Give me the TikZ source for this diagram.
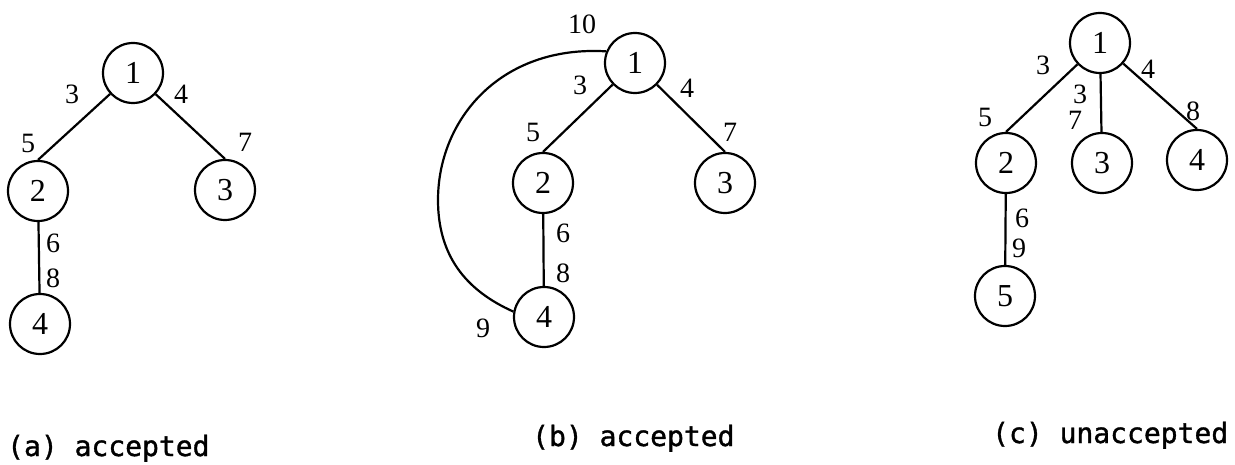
\documentclass[tikz,border=0pt]{standalone}
\usepackage{fontspec}
\newfontfamily\capfont[FakeBold=1.2]{DejaVu Sans Mono}
\newfontfamily\digfont{Liberation Serif}
\begin{document}
\begin{tikzpicture}[x=1pt,y=-1pt,
  vert/.style={circle,draw,line width=2.2pt,minimum size=60pt,inner sep=0pt,font=\digfont\fontsize{32}{32}\selectfont},
  lab/.style={inner sep=0pt,font=\digfont\fontsize{28}{28}\selectfont},
  link/.style={line width=2.2pt},
  captext/.style={anchor=base west,inner sep=0pt,font=\capfont\fontsize{28}{28}\selectfont}]
\useasboundingbox (0,0) rectangle (1235,465);
% (a)
\node[vert] (a1) at (133,73) {1};
\node[vert] (a2) at (38,191) {2};
\node[vert] (a3) at (225,190) {3};
\node[vert] (a4) at (40,324) {4};
\draw[link] (a1) -- (a2.north);
\draw[link] (a1) -- (a3.north);
\draw[link] (a2) -- (a4);
\node[lab] (la3) at (72,94) {3};
\node[lab] (la4) at (181,94) {4};
\node[lab] (la5) at (28,143) {5};
\node[lab] (la7) at (245,142) {7};
\node[lab] (la6) at (53,243) {6};
\node[lab] (la8) at (53,278) {8};
\node[captext] (capa) at (7,456) {(a) accepted};
% (b)
\node[vert] (b1) at (635,63) {1};
\node[vert] (b2) at (543,183) {2};
\node[vert] (b3) at (725,183) {3};
\node[vert] (b4) at (544,317) {4};
\draw[link] (b1) -- (b2.north);
\draw[link] (b1) -- (b3.north);
\draw[link] (b2) -- (b4);
\draw[link] (b1.158) .. controls (500,45) and (438,120) .. (438,200)
  .. controls (438,255) and (465,290) .. (b4.170);
\node[lab] (lb10) at (582,24) {10};
\node[lab] (lb3) at (580,85) {3};
\node[lab] (lb4) at (687,88) {4};
\node[lab] (lb5) at (533,132) {5};
\node[lab] (lb7) at (730,132) {7};
\node[lab] (lb6) at (563,233) {6};
\node[lab] (lb8) at (563,273) {8};
\node[lab] (lb9) at (483,328) {9};
\node[captext] (capb) at (532,446) {(b) accepted};
% (c)
\node[vert] (c1) at (1100,43) {1};
\node[vert] (c2) at (1006,163) {2};
\node[vert] (c3) at (1102,163) {3};
\node[vert] (c4) at (1197,160) {4};
\node[vert] (c5) at (1005,296) {5};
\draw[link] (c1) -- (c2.north);
\draw[link] (c1) -- (c3);
\draw[link] (c1) -- (c4.north);
\draw[link] (c2) -- (c5);
\node[lab] (lc3) at (1043,65) {3};
\node[lab] (lc4) at (1148,69) {4};
\node[lab] (lc3b) at (1080,94) {3};
\node[lab] (lc7) at (1075,120) {7};
\node[lab] (lc5) at (985,117) {5};
\node[lab] (lc8) at (1193,111) {8};
\node[lab] (lc6) at (1022,218) {6};
\node[lab] (lc9) at (1019,248) {9};
\node[captext] (capc) at (992,443) {(c) unaccepted};
\end{tikzpicture}
\end{document}
